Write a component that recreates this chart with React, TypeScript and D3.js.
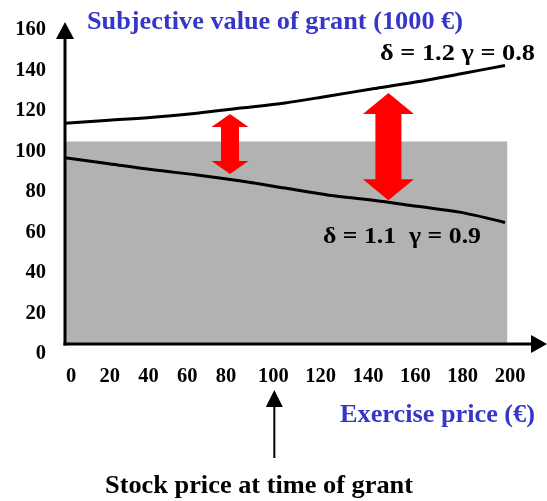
import React, { useEffect, useRef } from 'react';
import * as d3 from 'd3';

// exercise prices (x) and subjective values (1000 €)
const exercisePrices = [0, 20, 40, 60, 80, 100, 120, 140, 160, 180, 200];
const upperValues = [109, 110.5, 112, 114, 116.5, 119, 122.5, 126, 129.5, 133.5, 137.5];
const lowerValues = [92, 89, 86, 83.5, 80.5, 77, 73.5, 71, 68, 65, 60];
const xTicks = [0, 20, 40, 60, 80, 100, 120, 140, 160, 180, 200];
const yTicks = [0, 20, 40, 60, 80, 100, 120, 140, 160];
const grantBox = { x0: 0, x1: 201, value: 100 };
const gapArrows = [
  { x: 75, from: 84, to: 113.6 },
  { x: 147, from: 71, to: 124 },
];
const stockPrice = 100;

const FONT = '"Liberation Serif", "Times New Roman", serif';
const BLUE = '#3636c8';

export default function App() {
  const ref = useRef<SVGSVGElement>(null);

  useEffect(() => {
    const svg = d3.select(ref.current);
    svg.selectAll('*').remove();

    const x = d3.scaleLinear().domain([0, 200]).range([65, 505]);
    const y = d3.scaleLinear().domain([0, 160]).range([344, 20]);
    // tick labels were typed as a spaced string, so they drift from the data scale
    const xLabel = d3.scaleLinear().domain([0, 80, 200]).range([71, 226, 510]);

    // grey box up to the stock price
    svg
      .append('rect')
      .attr('x', x(grantBox.x0))
      .attr('y', y(grantBox.value))
      .attr('width', x(grantBox.x1) - x(grantBox.x0))
      .attr('height', y(0) - y(grantBox.value))
      .attr('fill', '#b2b2b2');

    const line = d3
      .line<number>()
      .x((d, i) => x(exercisePrices[i]))
      .y((d) => y(d))
      .curve(d3.curveMonotoneX);

    [upperValues, lowerValues].forEach((vals) => {
      svg
        .append('path')
        .attr('d', line(vals))
        .attr('fill', 'none')
        .attr('stroke', '#000')
        .attr('stroke-width', 3);
    });

    // axes with arrow heads
    svg.append('line')
      .attr('x1', 65).attr('x2', 65)
      .attr('y1', y(0) + 1.5).attr('y2', 38)
      .attr('stroke', '#000').attr('stroke-width', 3);
    svg.append('path').attr('d', 'M56,39 L74,39 L65,22 Z').attr('fill', '#000');

    svg.append('line')
      .attr('x1', 63.5).attr('x2', 532)
      .attr('y1', y(0)).attr('y2', y(0))
      .attr('stroke', '#000').attr('stroke-width', 3);
    svg.append('path').attr('d', `M531,335 L531,353 L547,${y(0)} Z`).attr('fill', '#000');

    // tick labels
    svg
      .append('g')
      .selectAll('text')
      .data(yTicks)
      .enter()
      .append('text')
      .attr('x', 46)
      .attr('y', (d) => y(d) + 15)
      .attr('text-anchor', 'end')
      .attr('font-family', FONT)
      .attr('font-weight', 'bold')
      .attr('font-size', 20.5)
      .text((d) => d);

    svg
      .append('g')
      .selectAll('text')
      .data(xTicks)
      .enter()
      .append('text')
      .attr('x', (d) => xLabel(d))
      .attr('y', 382)
      .attr('text-anchor', 'middle')
      .attr('font-family', FONT)
      .attr('font-weight', 'bold')
      .attr('font-size', 20.5)
      .text((d) => d);

    // red double arrows
    const arrowStyle = [
      { headW: 37, headH: 13, shaftW: 18 },
      { headW: 51, headH: 21, shaftW: 26 },
    ];
    gapArrows.forEach((a, i) => {
      const s = arrowStyle[i];
      const cx = x(a.x);
      const top = y(a.to);
      const bot = y(a.from);
      const hw = s.headW / 2;
      const sw = s.shaftW / 2;
      const p = d3.path();
      p.moveTo(cx, top);
      p.lineTo(cx + hw, top + s.headH);
      p.lineTo(cx + sw, top + s.headH);
      p.lineTo(cx + sw, bot - s.headH);
      p.lineTo(cx + hw, bot - s.headH);
      p.lineTo(cx, bot);
      p.lineTo(cx - hw, bot - s.headH);
      p.lineTo(cx - sw, bot - s.headH);
      p.lineTo(cx - sw, top + s.headH);
      p.lineTo(cx - hw, top + s.headH);
      p.closePath();
      svg.append('path').attr('d', p.toString()).attr('fill', '#ff0000');
    });

    // stock price pointer
    const sx = xLabel(stockPrice) + 1;
    svg.append('line')
      .attr('x1', sx).attr('x2', sx).attr('y1', 405).attr('y2', 458)
      .attr('stroke', '#000').attr('stroke-width', 2);
    svg.append('path')
      .attr('d', `M${sx - 8.5},407 L${sx + 8.5},407 L${sx},390 Z`)
      .attr('fill', '#000');

    const addText = (tx: number, ty: number, str: string, size: number, color: string, len: number) =>
      svg
        .append('text')
        .attr('x', tx)
        .attr('y', ty)
        .attr('font-family', FONT)
        .attr('font-weight', 'bold')
        .attr('font-size', size)
        .attr('fill', color)
        .attr('xml:space', 'preserve')
        .attr('textLength', len)
        .attr('lengthAdjust', 'spacingAndGlyphs')
        .text(str);

    addText(87, 29, 'Subjective value of grant (1000 €)', 26, BLUE, 376);
    addText(340, 422, 'Exercise price (€)', 26, BLUE, 195);
    addText(105, 493, 'Stock price at time of grant', 26, '#000', 308);
    addText(380, 60, 'δ = 1.2 γ = 0.8', 24, '#000', 155);
    addText(323, 243, 'δ = 1.1  γ = 0.9', 24, '#000', 158);
  }, []);

  return (
    <svg
      ref={ref}
      width={547}
      height={501}
      style={{ position: 'fixed', left: 0, top: 0, display: 'block' }}
    />
  );
}
